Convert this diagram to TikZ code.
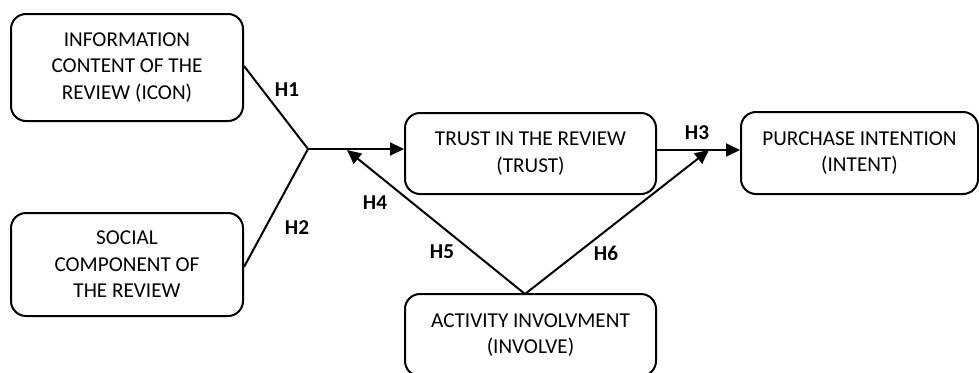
\documentclass[tikz,border=0pt]{standalone}
\usepackage{fontspec}
\setmainfont{Carlito}
\usetikzlibrary{arrows.meta}
\begin{document}
\begin{tikzpicture}[x=1pt,y=-1pt,
  box/.style={draw=black, line width=2pt, rounded corners=15pt, align=center,
    inner sep=0pt, font=\fontsize{21.2}{26.5}\selectfont},
  conn/.style={draw=black, line width=2pt},
  arr/.style={conn, -{Triangle[length=14pt,width=13pt]}},
  hlab/.style={font=\fontsize{21.2}{24}\selectfont\bfseries, inner sep=0pt}]
\useasboundingbox (0,0) rectangle (979,372);
\begin{scope}
\clip (0,0) rectangle (979,372);
\node[box, minimum width=232pt, minimum height=107pt] (icon) at (127,67.5)
  {INFORMATION\\CONTENT OF THE\\REVIEW (ICON)};
\node[box, minimum width=232pt, minimum height=103pt] (social) at (127,264.5)
  {SOCIAL\\COMPONENT OF\\THE REVIEW};
\node[box, minimum width=251pt, minimum height=81pt] (trust) at (530.5,153.5)
  {TRUST IN THE REVIEW\\(TRUST)};
\node[box, minimum width=237pt, minimum height=82pt] (intent) at (859.5,153)
  {PURCHASE INTENTION\\(INTENT)};
\node[box, minimum width=251pt, minimum height=82pt] (involve) at (530.5,335)
  {ACTIVITY INVOLVMENT\\(INVOLVE)};
\end{scope}
\coordinate (j) at (308,149);
\coordinate (apex) at (525,294);
\coordinate (t4) at (347,150);
\coordinate (t6) at (709,150);
\draw[conn] (icon.east |- 0,66) -- (j);
\draw[conn] (social.east |- 0,267) -- (j);
\draw[arr] (j) -- (j -| trust.west);
\draw[arr] (trust.east |- 0,150) -- (intent.west |- 0,150);
\draw[arr] (apex) -- (t4);
\draw[arr] (apex) -- (t6);
\node[hlab] (h1) at (287,90) {H1};
\node[hlab] (h2) at (297,228) {H2};
\node[hlab] (h3) at (697,133) {H3};
\node[hlab] (h4) at (375,203) {H4};
\node[hlab] (h5) at (442,252) {H5};
\node[hlab] (h6) at (606,253) {H6};
\end{tikzpicture}
\end{document}
